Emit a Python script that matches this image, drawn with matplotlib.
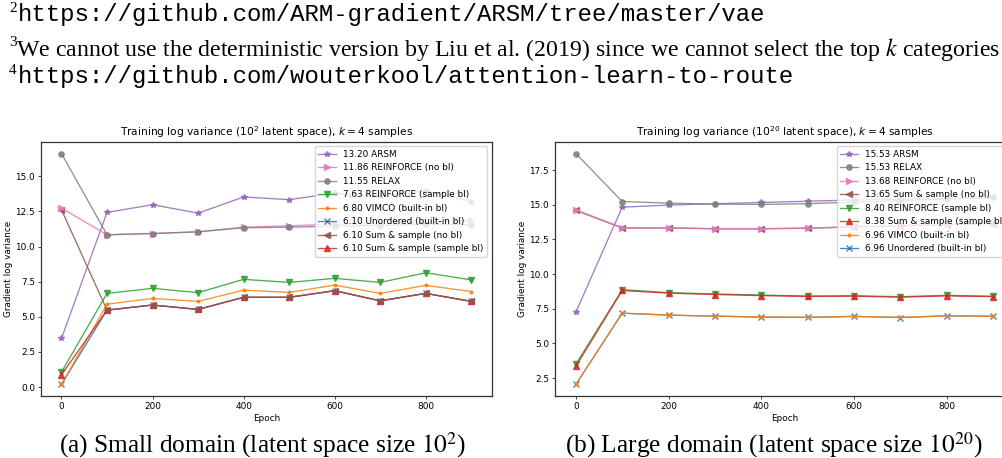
import matplotlib
matplotlib.use("Agg")
import matplotlib.pyplot as plt

epochs = [0, 100, 200, 300, 400, 500, 600, 700, 800, 900]

# Small domain (latent space size 10^2)
small_unordered = [0.20, 5.48, 5.84, 5.53, 6.39, 6.39, 6.86, 6.14, 6.67, 6.10]
small_vimco = [0.19, 5.90, 6.31, 6.10, 6.90, 6.74, 7.26, 6.67, 7.24, 6.80]
small_reinforce_sbl = [1.07, 6.67, 7.03, 6.72, 7.67, 7.45, 7.74, 7.45, 8.14, 7.63]
small_sumsample_sbl = [0.88, 5.48, 5.84, 5.53, 6.39, 6.39, 6.86, 6.14, 6.67, 6.10]
small_arsm = [3.46, 12.43, 12.98, 12.38, 13.53, 13.34, 13.80, 13.60, 13.95, 13.20]
small_sumsample_nobl = [12.62, 5.48, 5.84, 5.53, 6.39, 6.39, 6.86, 6.14, 6.67, 6.10]
small_reinforce_nobl = [12.74, 10.84, 10.93, 11.05, 11.38, 11.48, 11.60, 11.62, 11.75, 11.86]
small_relax = [16.62, 10.84, 10.93, 11.05, 11.34, 11.38, 11.46, 11.50, 11.60, 11.55]

# Large domain (latent space size 10^20)
large_unordered = [2.04, 7.18, 7.04, 6.97, 6.90, 6.88, 6.95, 6.87, 6.99, 6.96]
large_vimco = [2.04, 7.19, 7.05, 6.97, 6.91, 6.89, 6.95, 6.88, 6.99, 6.96]
large_reinforce_sbl = [3.50, 8.88, 8.66, 8.57, 8.49, 8.42, 8.44, 8.37, 8.47, 8.40]
large_sumsample_sbl = [3.35, 8.82, 8.63, 8.53, 8.45, 8.39, 8.41, 8.34, 8.43, 8.38]
large_arsm = [7.25, 14.83, 14.98, 15.08, 15.17, 15.26, 15.35, 15.40, 15.45, 15.53]
large_sumsample_nobl = [14.60, 13.33, 13.33, 13.27, 13.27, 13.31, 13.40, 13.48, 13.57, 13.65]
large_reinforce_nobl = [14.64, 13.35, 13.35, 13.28, 13.28, 13.33, 13.42, 13.50, 13.60, 13.68]
large_relax = [18.70, 15.24, 15.12, 15.05, 15.03, 15.08, 15.20, 15.30, 15.42, 15.53]

names = ["Unordered (built-in bl)", "VIMCO (built-in bl)", "REINFORCE (sample bl)",
         "Sum & sample (sample bl)", "ARSM", "Sum & sample (no bl)",
         "REINFORCE (no bl)", "RELAX"]
markers = ["x", ".", "v", "^", "*", "<", ">", "o"]
colors = ["C0", "C1", "C2", "C3", "C4", "C5", "C6", "C7"]

small_series = [small_unordered, small_vimco, small_reinforce_sbl, small_sumsample_sbl,
                small_arsm, small_sumsample_nobl, small_reinforce_nobl, small_relax]
large_series = [large_unordered, large_vimco, large_reinforce_sbl, large_sumsample_sbl,
                large_arsm, large_sumsample_nobl, large_reinforce_nobl, large_relax]

# legend order (by final value)
small_legend_order = [4, 6, 7, 2, 1, 0, 5, 3]
large_legend_order = [4, 7, 6, 5, 2, 3, 1, 0]

titles = [r"Training log variance ($10^2$ latent space), $k=4$ samples",
          r"Training log variance ($10^{20}$ latent space), $k=4$ samples"]
captions = [r"(a) Small domain (latent space size $10^2$)",
            r"(b) Large domain (latent space size $10^{20}$)"]

W, H = 1003, 458
fig = plt.figure(figsize=(W / 100, H / 100), dpi=100)

def px(x, y):
    return x / W, 1 - y / H

plt.rcParams["axes.edgecolor"] = "#333333"

axes_boxes = [(41, 142, 491.7, 396), (555, 142, 1014, 396)]
caption_x = [263, 774]
fs = 6.4

for i, (series, order) in enumerate([(small_series, small_legend_order),
                                     (large_series, large_legend_order)]):
    x0, y0, x1, y1 = axes_boxes[i]
    ax = fig.add_axes([x0 / W, 1 - y1 / H, (x1 - x0) / W, (y1 - y0) / H])
    handles = []
    for vals, name, mk, col in zip(series, names, markers, colors):
        h, = ax.plot(epochs, vals, marker=mk, color=col, lw=0.95, ms=3.8,
                     alpha=0.85, label=f"{vals[-1]:.2f} {name}")
        handles.append(h)
    ax.legend([handles[j] for j in order], [handles[j].get_label() for j in order],
              loc="upper right", fontsize=fs, handlelength=2, borderpad=0.4,
              labelspacing=0.5, framealpha=0.8, edgecolor="#cccccc")
    ax.set_title(titles[i], fontsize=7.7, pad=4)
    ax.set_xlabel("Epoch", fontsize=fs, labelpad=2)
    ax.set_ylabel("Gradient log variance", fontsize=fs, labelpad=2)
    ax.tick_params(labelsize=fs, length=2.2, width=0.5, pad=2)
    for s in ax.spines.values():
        s.set_linewidth(0.9)
    fig.text(*px(caption_x[i], 452), captions[i], ha="center", va="baseline",
             fontsize=18.3, family="Liberation Serif", math_fontfamily="stix")

# footnotes
mono = "Liberation Mono"
serif = "Liberation Serif"
fig.text(*px(9, 12), "2", fontsize=11, family=serif, va="baseline")
fig.text(*px(18, 21), "https://github.com/ARM-gradient/ARSM/tree/master/vae",
         fontsize=17.3, family=mono, va="baseline")
fig.text(*px(9, 46), "3", fontsize=11, family=serif, va="baseline")
fig.text(*px(16, 56), "We cannot use the deterministic version by Liu et al. (2019) "
         "since we cannot select the top $k$ categories",
         fontsize=17.2, family=serif, va="baseline", math_fontfamily="stix")
fig.text(*px(9, 74), "4", fontsize=11, family=serif, va="baseline")
fig.text(*px(18, 83), "https://github.com/wouterkool/attention-learn-to-route",
         fontsize=17.3, family=mono, va="baseline")

fig.savefig("out.png", dpi=100)
